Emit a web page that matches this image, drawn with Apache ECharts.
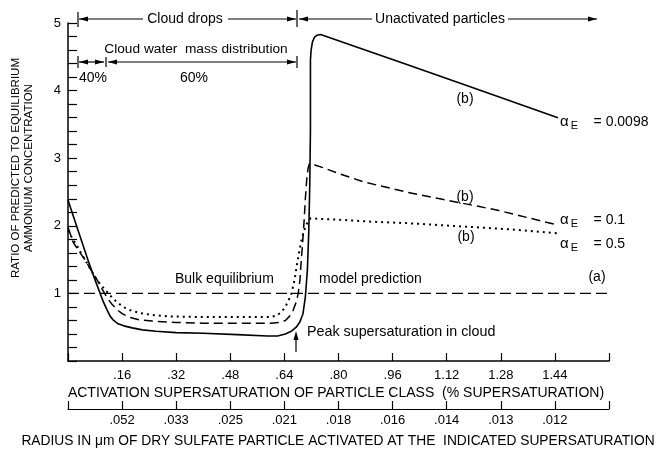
<!DOCTYPE html>
<html>
<head>
<meta charset="utf-8">
<script src="https://cdn.jsdelivr.net/npm/echarts@6/dist/echarts.min.js"></script>
<style>
html,body{margin:0;padding:0;background:#fff;}
#c{width:667px;height:453px;}
</style>
</head>
<body>
<div id="c"></div>
<script>
// ---- data ----
const solidX = [0, 0.02, 0.04, 0.06, 0.08, 0.095, 0.105, 0.115, 0.125, 0.135, 0.148, 0.165, 0.19, 0.22, 0.26, 0.32, 0.4, 0.5, 0.59, 0.62, 0.643, 0.66, 0.675, 0.686, 0.695, 0.702, 0.708, 0.712, 0.715, 0.717, 0.717, 0.719, 0.723, 0.729, 0.737, 0.747, 1.0, 1.2, 1.449];
const solidY = [2.38, 2.08, 1.78, 1.48, 1.2, 1.0, 0.87, 0.76, 0.66, 0.6, 0.55, 0.52, 0.49, 0.46, 0.44, 0.42, 0.41, 0.39, 0.37, 0.37, 0.4, 0.44, 0.5, 0.58, 0.7, 0.95, 1.35, 1.9, 2.6, 3.4, 4.45, 4.6, 4.72, 4.79, 4.82, 4.83, 4.39, 4.04, 3.6];
const dashX = [0, 0.015, 0.03, 0.05, 0.07, 0.086, 0.098, 0.108, 0.118, 0.13, 0.145, 0.16, 0.18, 0.21, 0.25, 0.32, 0.4, 0.5, 0.6, 0.625, 0.643, 0.655, 0.665, 0.674, 0.681, 0.686, 0.69, 0.694, 0.698, 0.702, 0.706, 0.71, 0.714, 0.719, 0.73, 0.76, 0.797, 0.874, 1.0, 1.1, 1.271, 1.449];
const dashY = [1.98, 1.76, 1.64, 1.5, 1.33, 1.2, 1.09, 1.0, 0.92, 0.84, 0.76, 0.7, 0.65, 0.61, 0.59, 0.57, 0.56, 0.56, 0.56, 0.57, 0.6, 0.66, 0.74, 0.86, 1.0, 1.2, 1.5, 1.75, 2.05, 2.4, 2.68, 2.85, 2.92, 2.93, 2.9, 2.85, 2.78, 2.65, 2.5, 2.4, 2.23, 2.01];
const dotX = [0, 0.012, 0.025, 0.036, 0.05, 0.065, 0.08, 0.098, 0.116, 0.13, 0.145, 0.163, 0.185, 0.213, 0.25, 0.3, 0.4, 0.5, 0.6, 0.615, 0.628, 0.64, 0.65, 0.661, 0.67, 0.678, 0.685, 0.692, 0.7, 0.708, 0.717, 0.8, 0.9, 1.0, 1.1, 1.2, 1.3, 1.449];
const dotY = [1.93, 1.82, 1.72, 1.62, 1.5, 1.37, 1.24, 1.12, 1.02, 0.94, 0.87, 0.8, 0.75, 0.71, 0.68, 0.66, 0.65, 0.65, 0.65, 0.67, 0.71, 0.78, 0.87, 1.0, 1.2, 1.45, 1.65, 1.82, 1.95, 2.05, 2.11, 2.09, 2.06, 2.04, 2.01, 1.98, 1.95, 1.89];
const bulkX = [0, 1.6];
const bulkY = [1, 1];
const supersatLabels = ['', '.16', '.32', '.48', '.64', '.80', '.96', '1.12', '1.28', '1.44', ''];
const radiusLabels = ['', '.052', '.033', '.025', '.021', '.018', '.016', '.014', '.013', '.012', ''];
const yLabels = ['', '1', '2', '3', '4', '5'];

const pair = (xs, ys) => xs.map((x, i) => [x, ys[i]]);
const FONT = '"Liberation Sans", Arial, sans-serif';
const chart = echarts.init(document.getElementById('c'), null, {renderer: 'canvas'});

function txt(x, y, text, size, align, extra) {
  return Object.assign({
    type: 'text', x: x, y: y,
    style: {text: text, font: size + 'px ' + FONT, fill: '#000',
      textAlign: align || 'center', textVerticalAlign: 'middle',
      align: align || 'center', verticalAlign: 'middle'}
  }, extra || {});
}
function seg(x1, y1, x2, y2, w) {
  return {type: 'line', shape: {x1: x1, y1: y1, x2: x2, y2: y2}, style: {stroke: '#000', lineWidth: w || 1.2}};
}
function arrowH(xTip, y, dir) { // dir 1 => points right, -1 => left
  return {type: 'polygon', shape: {points: [[xTip, y], [xTip - dir * 9, y - 2.5], [xTip - dir * 9, y + 2.5]]}, style: {fill: '#000'}};
}
function arrowUp(x, yTip) {
  return {type: 'polygon', shape: {points: [[x, yTip], [x - 2.5, yTip + 9], [x + 2.5, yTip + 9]]}, style: {fill: '#000'}};
}
function alphaLabel(x, y, val) {
  return {
    type: 'text', x: x, y: y,
    style: {
      text: '{a|α}{e|E}{t|    = ' + val + '}',
      rich: {
        a: {font: '15px ' + FONT, fill: '#000'},
        e: {font: '11px ' + FONT, fill: '#000', padding: [8, 0, 0, 2]},
        t: {font: '14px ' + FONT, fill: '#000'}
      },
      textVerticalAlign: 'middle', verticalAlign: 'middle'
    }
  };
}

const yTitle = txt(22, 168, 'RATIO OF PREDICTED TO EQUILIBRIUM\nAMMONIUM CONCENTRATION', 11.5, 'center', {rotation: Math.PI / 2});
yTitle.style.lineHeight = 13;

const graphics = [
  // Top "Cloud drops" / "Unactivated particles" bracket
  seg(78, 12, 78, 27), arrowH(79, 19, -1), seg(79, 19, 143, 19),
  txt(185, 19, 'Cloud drops', 14),
  seg(228, 19, 296, 19), arrowH(296, 19, 1),
  seg(297, 10, 297, 27), arrowH(299, 19, -1), seg(299, 19, 372, 19),
  txt(440, 19, 'Unactivated particles', 14),
  seg(508, 19, 597, 19), arrowH(597, 19, 1),
  // Cloud water mass distribution
  txt(196, 49, 'Cloud water  mass distribution', 13.7),
  seg(78, 56, 78, 68), arrowH(79, 62, -1), seg(79, 62, 104, 62), arrowH(104, 62, 1),
  seg(106, 57, 106, 67), arrowH(108, 62, -1), seg(108, 62, 296, 62), arrowH(296, 62, 1),
  seg(297, 56, 297, 68),
  txt(93, 78, '40%', 14), txt(194, 78, '60%', 14),
  // bulk equilibrium labels
  txt(175, 279, 'Bulk equilibrium', 14, 'left'),
  txt(319, 279, 'model prediction', 14, 'left'),
  txt(597, 277, '(a)', 14),
  // peak supersaturation
  txt(307, 332, 'Peak supersaturation in cloud', 14.3, 'left'),
  seg(296, 352, 296, 338), arrowUp(296, 331),
  // (b) labels
  txt(465, 99, '(b)', 14), txt(465, 197, '(b)', 14), txt(466, 237, '(b)', 14),
  alphaLabel(560, 122, '0.0098'), alphaLabel(560, 220, '0.1'), alphaLabel(560, 244, '0.5'),
  // axis titles
  yTitle,
  txt(336, 393, 'ACTIVATION SUPERSATURATION OF PARTICLE CLASS  (% SUPERSATURATION)', 14),
  txt(338, 441, 'RADIUS IN μm OF DRY SULFATE PARTICLE ACTIVATED AT THE  INDICATED SUPERSATURATION', 13.8)
];

const lineBase = {type: 'line', showSymbol: false, symbol: 'none', animation: false, silent: true, smooth: false};

chart.setOption({
  animation: false,
  backgroundColor: '#fff',
  grid: {left: 68, right: 58, top: 23, bottom: 92},
  xAxis: [{
    type: 'value', min: 0, max: 1.6, interval: 0.16,
    axisLine: {show: true, lineStyle: {color: '#000', width: 1.5}},
    axisTick: {show: true, inside: true, length: 8, lineStyle: {color: '#000', width: 1.2}},
    axisLabel: {margin: 8, color: '#000', fontSize: 13, fontFamily: FONT,
      formatter: v => supersatLabels[Math.round(v / 0.16)] || ''},
    splitLine: {show: false}
  }, {
    type: 'value', min: 0, max: 1.6, interval: 0.16, position: 'bottom', offset: 48,
    axisLine: {show: true, lineStyle: {color: '#000', width: 1.2}},
    axisTick: {show: true, inside: true, length: 8, lineStyle: {color: '#000', width: 1.2}},
    axisLabel: {margin: 5, color: '#000', fontSize: 13, fontFamily: FONT,
      formatter: v => radiusLabels[Math.round(v / 0.16)] || ''},
    splitLine: {show: false}
  }],
  yAxis: {
    type: 'value', min: 0, max: 5, interval: 1,
    axisLine: {show: true, lineStyle: {color: '#000', width: 1.5}},
    axisTick: {show: true, inside: true, length: 9, lineStyle: {color: '#000', width: 1.2}},
    minorTick: {show: true, splitNumber: 5, length: 9, lineStyle: {color: '#000', width: 1.2}},
    axisLabel: {margin: 7, color: '#000', fontSize: 13, fontFamily: FONT,
      formatter: v => yLabels[Math.round(v)] || ''},
    splitLine: {show: false}
  },
  series: [
    Object.assign({}, lineBase, {name: 'bulk', data: pair(bulkX, bulkY),
      lineStyle: {color: '#000', width: 1.2, type: [11, 5]}}),
    Object.assign({}, lineBase, {name: 'aE=0.5', data: pair(dotX, dotY),
      lineStyle: {color: '#000', width: 2, type: [2, 4]}}),
    Object.assign({}, lineBase, {name: 'aE=0.1', data: pair(dashX, dashY),
      lineStyle: {color: '#000', width: 1.5, type: [9, 5]}}),
    Object.assign({}, lineBase, {name: 'aE=0.0098', data: pair(solidX, solidY),
      lineStyle: {color: '#000', width: 1.6, join: 'round'}})
  ],
  graphic: graphics
});
</script>
</body>
</html>
